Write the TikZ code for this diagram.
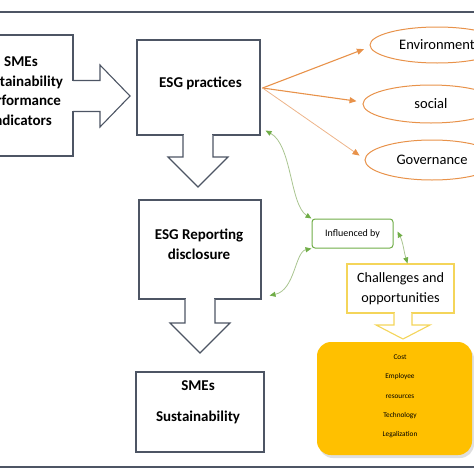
\documentclass[tikz,border=0pt]{standalone}
\usepackage{fontspec}
\setmainfont{Carlito}
\usetikzlibrary{shapes.geometric,arrows.meta,calc,shadows}
\definecolor{boxc}{HTML}{4D5564}
\definecolor{orl}{HTML}{E8924A}
\definecolor{orlight}{HTML}{EDB48A}
\definecolor{grn}{HTML}{70AD47}
\definecolor{grnl}{HTML}{A9C590}
\definecolor{ylw}{HTML}{F4D55A}
\definecolor{gold}{HTML}{FFC000}
\tikzset{
  mainbox/.style={draw=boxc, line width=1.1pt, fill=white, inner sep=0pt, align=center},
  maintext/.style={font=\bfseries\fontsize{15}{19.5}\selectfont, align=center, inner sep=0pt},
  blockarrow/.style={draw=boxc, line width=1.1pt, fill=white, line join=miter},
  oval/.style={ellipse, draw=orl, line width=1pt, inner sep=0pt, font=\fontsize{14.5}{16}\selectfont},
  orarrow/.style={draw=orl, line width=1.1pt, -{Triangle[length=7pt,width=6pt]}, shorten >=6pt},
  grarrow/.style={draw=grnl, line width=0.8pt, {Triangle[length=6pt,width=5pt,fill=grn,color=grn]}-{Triangle[length=6pt,width=5pt,fill=grn,color=grn]}},
  framel/.style={draw=boxc, line width=1.2pt}
}
\begin{document}
\begin{tikzpicture}[x=1pt,y=-1pt]
\useasboundingbox (0,0) rectangle (474,474);
% frame lines
\draw[framel] (0,12) -- (474,12);
\draw[framel] (0,467) -- (474,467);

% left box
\node[mainbox, minimum width=108pt, minimum height=121pt] (smespi) at (19,95.5) {};
\node[maintext] (smespit) at (21,91) {SMEs\\Sustainability\\Performance\\Indicators};

% ESG practices
\node[mainbox, minimum width=123pt, minimum height=95pt] (esg) at (198.5,87.5) {};
\node[maintext] (esgt) at (200.5,83) {ESG practices};

% ESG reporting
\node[mainbox, minimum width=122pt, minimum height=99pt] (rep) at (200,249.5) {};
\node[maintext] (rept) at (199,244.5) {ESG Reporting\\disclosure};

% SMEs sustainability
\node[mainbox, minimum width=128pt, minimum height=80pt] (sus) at (200,412) {};
\node[maintext, font=\bfseries\fontsize{15}{31}\selectfont] (sust) at (198,402.5) {SMEs\\Sustainability};

% block arrow left -> ESG practices
\fill[white] ($(smespi.east)+(-1.5,-15)$) rectangle ($(smespi.east)+(1.5,15)$);
\path[blockarrow] (73,80.5) -- (100,80.5) -- (100,65) -- (130,96) -- (100,127) -- (100,111.5) -- (73,111.5);

% block arrow ESG practices -> reporting
\fill[white] (184,133.5) rectangle (212,136.5);
\path[blockarrow] (183,135) -- (183,157) -- (168,157) -- (198,187) -- (228,157) -- (213,157) -- (213,135);

% block arrow reporting -> sustainability
\fill[white] (186,297.5) rectangle (214,300.5);
\path[blockarrow] (185,299) -- (185,323) -- (170,323) -- (200,353) -- (230,323) -- (215,323) -- (215,299);

% ellipses
\node[oval, minimum width=134pt, minimum height=36pt] (env) at (437,45) {Environment};
\node[oval, minimum width=136pt, minimum height=38pt] (soc) at (431,104) {social};
\node[oval, minimum width=134pt, minimum height=40pt] (gov) at (432,160) {Governance};

\draw[orarrow] ($(esg.east)+(2,0.5)$) -- ($(env.west)+(0,2)$);
\draw[orarrow] ($(esg.east)+(2,0.5)$) -- ($(soc.west)+(0,-2)$);
\draw[orarrow, draw=orlight, line width=0.8pt, -{Triangle[length=7pt,width=6pt,color=orl]}] ($(esg.east)+(2,0.5)$) -- ($(gov.west)+(0,-1)$);

% influenced by
\node[draw=grn, line width=1pt, rounded corners=3pt, minimum width=81pt, minimum height=29pt, fill=white, inner sep=0pt, font=\fontsize{10}{11}\selectfont] (inf) at (352.5,233.5) {Influenced by};

% challenges
\node[draw=ylw, line width=1.1pt, fill=white, minimum width=107pt, minimum height=49pt, inner sep=0pt, align=center, font=\fontsize{14.2}{20}\selectfont] (cha) at (400.5,288.5) {Challenges and\\opportunities};

% orange box
\node[fill=gold, rounded corners=14pt, minimum width=155pt, minimum height=113pt, inner sep=0pt, align=center,
      drop shadow={shadow xshift=2pt, shadow yshift=-3pt, fill=black!25}] (fac) at (394.5,398.5) {};
\node[align=center, inner sep=0pt, font=\fontsize{7.3}{19.3}\selectfont] (fact) at (400,396.5) {Cost\\Employee\\resources\\Technology\\Legalization};

% yellow block arrow challenges -> factors
\fill[white] (395,311.5) rectangle (411,314.5);
\path[blockarrow, draw=ylw, line width=1.1pt] (394,313) -- (394,325) -- (376,325) -- (403,339) -- (430,325) -- (412,325) -- (412,313);

% green curved connectors
\draw[grarrow] (inf.north west) .. controls (290,205) and (292,145) .. ($(esg.south east)+(5,-5)$);
\draw[grarrow] (inf.south west) .. controls (295,252) and (295,290) .. ($(rep.south east)+(8,-4)$);
\draw[grarrow] ($(inf.east)+(4,-2)$) .. controls (403,242) and (404,252) .. ($(cha.north)+(7,0)$);
\end{tikzpicture}
\end{document}
